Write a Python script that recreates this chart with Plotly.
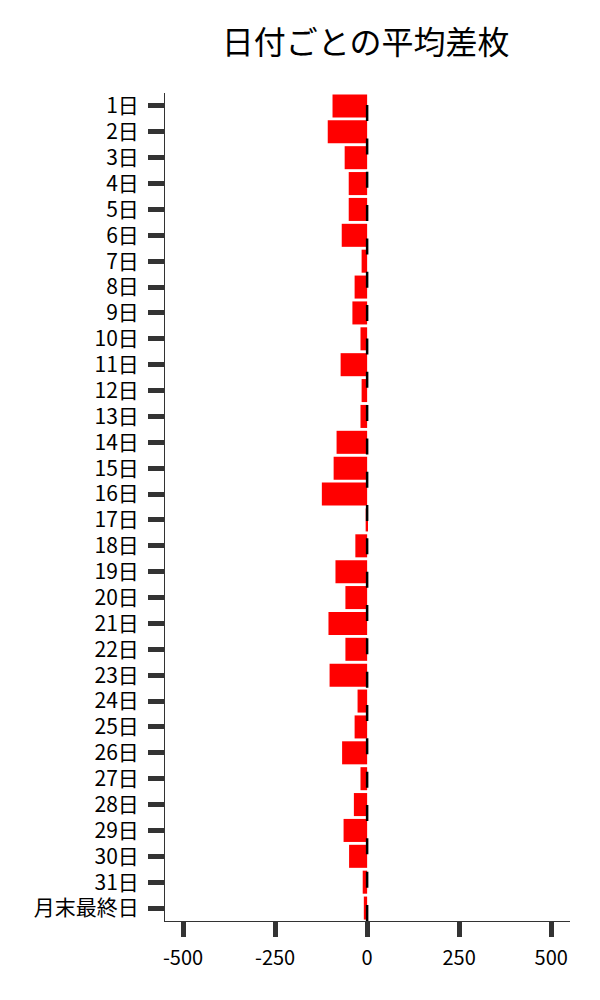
import plotly.graph_objects as go

categories = [f"{d}日" for d in range(1, 32)] + ["月末最終日"]
values = [-94, -107, -61, -50, -50, -69, -15, -34, -40, -18, -72,
          -15, -18, -83, -91, -123, -4, -32, -86, -59, -105, -59,
          -102, -26, -34, -68, -18, -36, -64, -49, -12, -9]
x_ticks = [-500, -250, 0, 250, 500]

FONT = "Noto Sans CJK JP"

fig = go.Figure(go.Bar(
    x=values, y=categories, orientation="h",
    marker=dict(color="#ff0000", line=dict(width=0)),
))

fig.add_shape(type="line", xref="x", yref="paper", x0=0, x1=0, y0=0, y1=1,
              line=dict(color="black", width=2.5, dash="16px,17.33px"), layer="above")

fig.update_layout(
    width=592, height=992,
    margin=dict(l=157, r=30, t=85, b=79),
    paper_bgcolor="white", plot_bgcolor="white",
    bargap=0.11,
    showlegend=False,
    title=dict(text="日付ごとの平均差枚", x=0.604, xanchor="center", y=0.9647, yanchor="middle",
               font=dict(family=FONT, size=32, color="black")),
    font=dict(family=FONT, size=20, color="black"),
)
fig.update_yaxes(
    autorange="reversed", showgrid=False, zeroline=False,
    showline=True, linecolor="#333333", linewidth=1,
    ticks="outside", ticklen=16, tickwidth=5, tickcolor="#333333",
    ticklabelstandoff=5,
    tickfont=dict(family=FONT, size=21, color="black"),
)
fig.update_xaxes(
    range=[-549, 551], tickvals=x_ticks, ticktext=[str(v) for v in x_ticks],
    showgrid=False, zeroline=False,
    showline=True, linecolor="#333333", linewidth=1,
    ticks="outside", ticklen=15, tickwidth=5, tickcolor="#333333",
    ticklabelstandoff=4,
    tickfont=dict(family=FONT, size=20, color="black"),
)

fig.write_html("out.html")
